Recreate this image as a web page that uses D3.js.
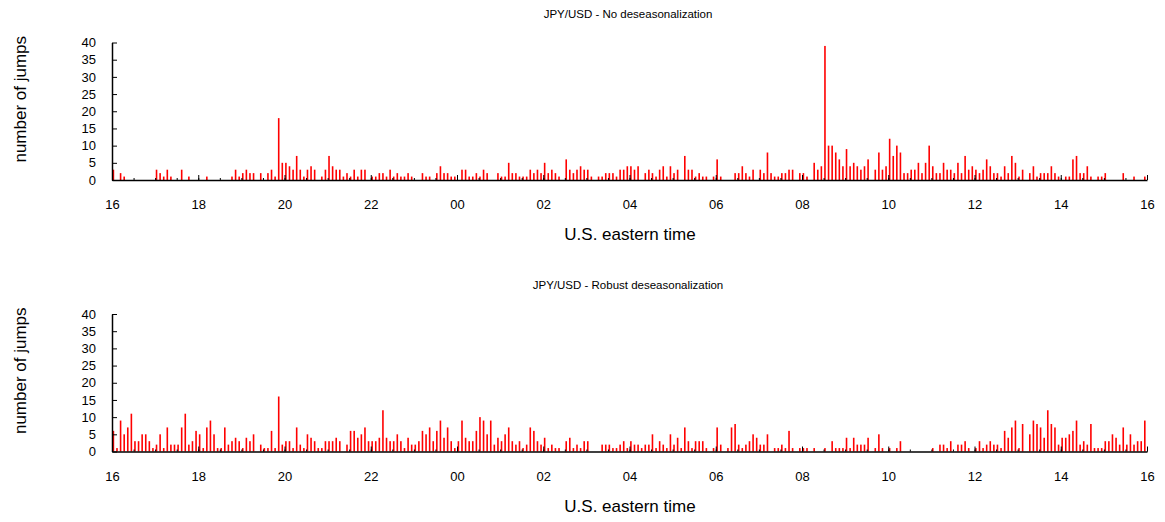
<!DOCTYPE html>
<html>
<head>
<meta charset="utf-8">
<script src="https://cdn.jsdelivr.net/npm/d3@7/dist/d3.min.js"></script>
<style>
  html, body { margin: 0; padding: 0; background: #fff; }
  svg { display: block; font-family: "Liberation Sans", Arial, sans-serif; }
  .axis path, .axis line { stroke: #000; }
  .axis text { fill: #000; }
</style>
</head>
<body>
<div id="chart"></div>
<script>
// jumps per 5-minute interval, 16:00 -> 16:00 (288 bins, one row per hour)
var noDeseason = [
  3,0,2,1,0,0,0,0,0,0,0,0,
  3,2,1,3,1,0,0,3,0,1,0,0,
  0,0,1,0,0,0,0,0,0,1,3,1,
  2,3,2,2,0,2,0,2,3,1,18,5,
  5,4,3,7,3,1,3,4,3,0,1,3,
  7,4,3,3,1,2,1,3,1,3,3,0,
  1,1,2,2,1,3,1,2,1,1,2,1,
  0,0,2,1,1,0,2,4,2,2,1,1,
  0,3,3,1,1,2,1,3,2,0,0,2,
  1,1,5,2,2,1,1,1,3,2,3,2,
  5,2,3,2,1,0,6,3,2,3,4,3,
  3,1,0,1,1,2,2,2,1,3,3,4,
  4,3,4,0,2,3,2,1,3,4,1,4,
  2,3,0,7,3,3,1,2,1,1,0,1,
  6,1,0,0,0,2,2,4,2,1,3,0,
  3,2,8,2,1,1,2,2,3,3,0,2,
  2,1,0,5,3,4,39,10,10,8,6,4,
  9,4,5,4,3,4,6,0,3,8,3,4,
  12,7,10,8,2,2,3,3,5,2,5,10,
  4,2,2,5,3,3,2,5,2,7,3,4,
  3,2,3,6,4,2,2,1,4,2,7,5,
  1,3,0,2,4,1,2,2,2,4,2,1,
  0,1,1,6,7,2,2,4,1,0,1,1,
  2,0,0,0,0,2,0,0,1,0,0,1
];

var robustDeseason = [
  6,1,9,5,7,11,3,3,5,5,3,1,
  2,5,1,7,2,2,2,7,11,2,3,6,
  5,1,7,9,5,1,1,7,2,3,4,3,
  1,4,3,5,0,2,1,1,6,1,16,2,
  3,3,1,7,2,1,5,4,3,1,1,3,
  3,3,4,3,0,2,6,6,4,5,7,3,
  3,3,4,12,4,3,3,5,3,1,4,2,
  2,3,6,5,7,3,6,9,4,7,3,1,
  3,9,4,3,3,6,10,9,5,9,2,4,
  3,5,7,3,2,3,1,2,7,6,3,2,
  4,1,2,1,1,0,3,4,1,2,1,3,
  3,0,0,0,2,2,2,1,1,2,3,1,
  3,2,2,1,2,2,5,1,3,2,1,5,
  2,4,1,7,3,1,3,3,3,1,0,1,
  7,2,0,1,7,8,2,1,2,3,5,4,
  2,2,5,0,1,1,2,1,6,1,0,1,
  1,1,0,1,0,0,1,0,3,1,1,1,
  4,1,4,2,2,2,4,0,1,5,1,0,
  1,0,1,3,0,0,0,0,0,0,0,0,
  1,0,2,2,1,3,0,2,2,3,1,0,
  1,3,1,2,3,2,2,1,6,4,7,9,
  1,8,0,5,9,8,7,4,12,8,7,2,
  4,4,5,6,9,2,3,2,8,1,1,1,
  3,3,5,4,2,7,2,5,2,3,3,9
];

var hourLabels = ['16','18','20','22','00','02','04','06','08','10','12','14','16'];
var yTicks = [0, 5, 10, 15, 20, 25, 30, 35, 40];

var panels = [
  { title: 'JPY/USD - No deseasonalization', values: noDeseason, top: 42.5, bottom: 180, titleY: 15 },
  { title: 'JPY/USD - Robust deseasonalization', values: robustDeseason, top: 314, bottom: 451.5, titleY: 286 }
];

var W = 1165, H = 522;
var X0 = 112, X1 = 1147;

var svg = d3.select('#chart').append('svg')
  .attr('width', W)
  .attr('height', H);

var x = d3.scaleLinear().domain([0, 288]).range([X0, X1]);

panels.forEach(function(p){
  var y = d3.scaleLinear().domain([0, 40]).range([p.bottom, p.top]);
  var g = svg.append('g');

  // title
  g.append('text')
    .attr('x', 628)
    .attr('y', p.titleY)
    .attr('text-anchor', 'middle')
    .attr('dominant-baseline', 'middle')
    .style('font-size', '11.5px')
    .text(p.title);

  // bars (one thin spike per 5-min bin)
  g.selectAll('.bar')
    .data(p.values.map(function(v, i){ return { i: i, v: v }; }).filter(function(d){ return d.v > 0; }))
    .enter().append('rect')
    .attr('class', 'bar')
    .attr('x', function(d){ return x(d.i) + 0.6; })
    .attr('width', 1.6)
    .attr('y', function(d){ return y(d.v); })
    .attr('height', function(d){ return y(0) - y(d.v); })
    .attr('fill', '#ff0000');

  // minor ticks every 30 min
  var minor = g.append('g')
    .attr('class', 'axis')
    .attr('transform', 'translate(0,' + y(0) + ')')
    .call(d3.axisBottom(x).tickValues(d3.range(0, 289, 6)).tickSize(-2).tickFormat(''));
  minor.select('.domain').remove();

  // major x axis
  var xa = g.append('g')
    .attr('class', 'axis')
    .attr('transform', 'translate(0,' + y(0) + ')')
    .call(d3.axisBottom(x)
      .tickValues(d3.range(0, 289, 24))
      .tickSizeInner(-5)
      .tickSizeOuter(0)
      .tickPadding(20)
      .tickFormat(function(d, i){ return hourLabels[i]; }));
  xa.select('.domain').attr('stroke-width', 1.5);
  xa.selectAll('text').style('font-size', '13px');

  // y axis
  var ya = g.append('g')
    .attr('class', 'axis')
    .attr('transform', 'translate(' + X0 + ',0)')
    .call(d3.axisLeft(y)
      .tickValues(yTicks)
      .tickSizeInner(-5)
      .tickSizeOuter(0)
      .tickPadding(16));
  ya.select('.domain').attr('stroke-width', 1.5);
  ya.selectAll('text').style('font-size', '13px');

  // axis titles
  g.append('text')
    .attr('x', 630)
    .attr('y', y(0) + 56)
    .attr('text-anchor', 'middle')
    .attr('dominant-baseline', 'middle')
    .style('font-size', '17px')
    .text('U.S. eastern time');

  g.append('text')
    .attr('transform', 'translate(22,' + ((p.top + p.bottom) / 2 - 12) + ') rotate(-90)')
    .attr('text-anchor', 'middle')
    .attr('dominant-baseline', 'middle')
    .style('font-size', '17px')
    .text('number of jumps');
});
</script>
</body>
</html>
